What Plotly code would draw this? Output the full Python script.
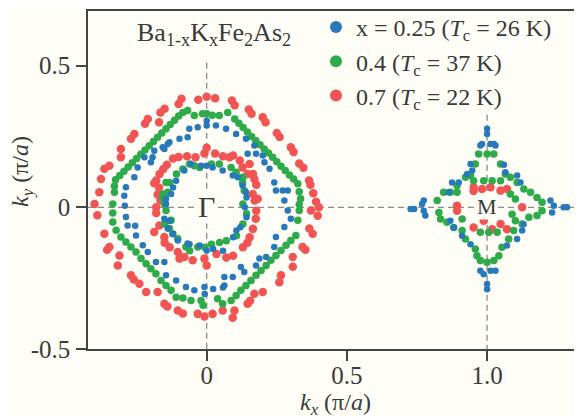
import plotly.graph_objects as go

# ---------------- data (kx, ky) in units of pi/a ----------------
series_names = ["x = 0.25 (<i>T</i><sub>c</sub> = 26 K)",
                "0.4 (<i>T</i><sub>c</sub> = 37 K)",
                "0.7 (<i>T</i><sub>c</sub> = 22 K)"]

# x = 0.7 (red)
red_gamma_outer = [
    (0.00, 0.39), (0.03, 0.385), (0.09, 0.377), (0.10, 0.36), (0.15, 0.345), (0.16, 0.33),
    (0.20, 0.318), (0.21, 0.30), (0.25, 0.262), (0.26, 0.248), (0.30, 0.212), (0.31, 0.195),
    (0.33, 0.155), (0.345, 0.14), (0.365, 0.095), (0.37, 0.08), (0.38, 0.05), (0.39, 0.02), (0.40, 0.0),
    (-0.03, 0.38), (-0.09, 0.383), (-0.10, 0.365), (-0.15, 0.348), (-0.165, 0.335), (-0.17, 0.30),
    (-0.21, 0.312), (-0.22, 0.295), (-0.258, 0.259), (-0.27, 0.242), (-0.306, 0.206), (-0.306, 0.177),
    (-0.347, 0.147), (-0.365, 0.136), (-0.377, 0.10), (-0.383, 0.053), (-0.40, 0.012),
    (-0.39, -0.028), (-0.365, -0.093), (-0.347, -0.14), (-0.355, -0.15), (-0.311, -0.17), (-0.317, -0.205),
    (-0.27, -0.24), (-0.26, -0.255), (-0.24, -0.27), (-0.216, -0.299), (-0.175, -0.299), (-0.151, -0.34),
    (-0.14, -0.35), (-0.103, -0.364), (-0.085, -0.375), (-0.032, -0.376), (-0.008, -0.385),
    (0.021, -0.376), (0.057, -0.364), (0.093, -0.39), (0.099, -0.364), (0.146, -0.34), (0.155, -0.33),
    (0.17, -0.305), (0.20, -0.299), (0.259, -0.264), (0.265, -0.24), (0.307, -0.21), (0.307, -0.175),
    (0.342, -0.14), (0.352, -0.15), (0.378, -0.093), (0.366, -0.075), (0.372, -0.011), (0.396, -0.03),
]
red_gamma_inner = [
    (0.0, 0.21), (-0.008, 0.19), (-0.04, 0.177), (-0.07, 0.18), (-0.10, 0.178), (-0.12, 0.172),
    (-0.142, 0.15), (-0.155, 0.135), (-0.168, 0.118), (-0.18, 0.095), (-0.187, 0.085), (-0.17, 0.07),
    (-0.175, 0.045), (-0.165, 0.025), (-0.18, 0.0),
    (-0.18, -0.02), (-0.169, -0.064), (-0.187, -0.087), (-0.151, -0.105), (-0.15, -0.125), (-0.132, -0.141),
    (-0.103, -0.158), (-0.097, -0.181), (-0.08, -0.175), (-0.05, -0.187), (-0.008, -0.181), (0.0, -0.205),
    (0.035, -0.165), (0.07, -0.177), (0.094, -0.171), (0.129, -0.141), (0.145, -0.125), (0.153, -0.106),
    (0.165, -0.076), (0.175, -0.04), (0.177, -0.012),
    (0.171, 0.024), (0.182, 0.03), (0.164, 0.047), (0.177, 0.08), (0.17, 0.1), (0.165, 0.118),
    (0.146, 0.118), (0.153, 0.153), (0.128, 0.141), (0.118, 0.165), (0.094, 0.183), (0.081, 0.177),
    (0.058, 0.18), (0.03, 0.19),
]
red_m = [
    (0.952, 0.071), (0.952, 0.058), (0.982, 0.065), (1.012, 0.071), (1.048, 0.059), (1.071, 0.065),
    (0.893, 0.006), (0.893, -0.012), (1.125, 0.0), (0.952, -0.071), (0.988, -0.047), (1.018, -0.077),
    (1.048, -0.059), (1.071, -0.077),
]

# x = 0.4 (green)
green_gamma_outer = [
    (0.0, 0.33), (0.02, 0.325), (0.045, 0.324), (0.075, 0.335), (0.10, 0.312), (0.115, 0.297),
    (0.13, 0.282), (0.145, 0.266), (0.16, 0.25), (0.175, 0.236), (0.19, 0.221), (0.205, 0.206),
    (0.22, 0.192), (0.235, 0.177), (0.25, 0.161), (0.265, 0.145), (0.28, 0.13), (0.295, 0.114),
    (0.31, 0.10), (0.325, 0.083), (0.33, 0.055), (0.335, 0.03), (0.33, 0.01),
    (-0.015, 0.33), (-0.044, 0.324), (-0.068, 0.342), (-0.085, 0.335), (-0.10, 0.322), (-0.115, 0.307),
    (-0.13, 0.292), (-0.145, 0.277), (-0.16, 0.262), (-0.175, 0.247), (-0.19, 0.232), (-0.205, 0.217),
    (-0.22, 0.202), (-0.235, 0.187), (-0.25, 0.172), (-0.265, 0.157), (-0.28, 0.142), (-0.295, 0.127),
    (-0.31, 0.112), (-0.325, 0.097), (-0.329, 0.075), (-0.329, 0.053), (-0.335, 0.012),
    (-0.335, -0.02), (-0.335, -0.052), (-0.323, -0.081), (-0.306, -0.105), (-0.288, -0.122),
    (-0.27, -0.14), (-0.252, -0.158), (-0.234, -0.181), (-0.216, -0.199), (-0.199, -0.217),
    (-0.181, -0.234), (-0.163, -0.258), (-0.145, -0.276), (-0.127, -0.293), (-0.109, -0.317),
    (-0.085, -0.32), (-0.056, -0.329), (-0.02, -0.329), (-0.013, -0.346),
    (0.039, -0.323), (0.057, -0.34), (0.087, -0.329), (0.105, -0.311), (0.122, -0.293), (0.14, -0.276),
    (0.158, -0.258), (0.176, -0.24), (0.194, -0.223), (0.212, -0.205), (0.229, -0.187), (0.247, -0.17),
    (0.265, -0.152), (0.283, -0.134), (0.30, -0.117), (0.318, -0.099), (0.325, -0.046), (0.33, -0.011),
]
green_gamma_inner = [
    (-0.025, 0.141), (-0.044, 0.147), (-0.061, 0.153), (-0.085, 0.135), (-0.108, 0.118), (-0.132, 0.088),
    (-0.145, 0.088), (-0.139, 0.053), (-0.156, 0.047), (-0.157, 0.035), (-0.151, 0.012),
    (-0.145, -0.011), (-0.127, -0.046), (-0.15, -0.059), (-0.133, -0.075), (-0.121, -0.093),
    (-0.103, -0.111), (-0.074, -0.14), (-0.061, -0.153), (-0.032, -0.14), (-0.007, -0.141), (0.017, -0.13),
    (0.046, -0.124), (0.07, -0.118), (0.106, -0.1), (0.129, -0.059), (0.142, -0.023), (0.129, 0.012),
    (0.134, 0.059), (0.128, 0.088), (0.129, 0.106), (0.105, 0.124), (0.087, 0.141), (0.045, 0.153),
    (0.017, 0.153),
]
green_m = [
    (1.0, 0.188), (0.97, 0.188), (1.024, 0.188), (0.958, 0.153), (1.048, 0.153), (1.065, 0.118),
    (0.941, 0.112), (0.923, 0.106), (0.893, 0.077), (0.869, 0.053), (0.845, 0.053), (0.822, 0.024),
    (0.828, -0.018), (0.834, -0.041), (0.857, -0.053), (0.881, -0.071), (0.911, -0.082), (0.923, -0.112),
    (0.958, -0.147), (0.964, -0.171), (0.976, -0.188), (1.0, -0.194), (1.024, -0.188), (1.042, -0.171),
    (1.053, -0.141), (1.077, -0.112), (1.095, -0.082), (1.125, -0.059), (1.149, -0.035), (1.178, -0.029),
    (1.196, -0.012), (1.196, 0.018), (1.178, 0.035), (1.155, 0.053), (1.131, 0.065), (1.107, 0.088),
    (1.083, 0.106),
    (0.952, 0.094), (0.988, 0.094), (1.018, 0.094), (1.048, 0.094), (0.893, 0.053), (1.083, 0.047),
    (1.101, 0.029), (1.089, -0.024), (1.101, -0.047), (1.036, -0.088), (1.006, -0.088), (0.976, -0.088),
    (0.911, -0.041),
]

# x = 0.25 (blue)
blue_gamma_outer = [
    (0.0, 0.306), (0.0, 0.289), (-0.032, 0.283), (-0.062, 0.277), (-0.068, 0.247), (-0.097, 0.242),
    (-0.133, 0.23), (-0.139, 0.224), (-0.157, 0.212), (-0.151, 0.206), (-0.187, 0.2), (-0.193, 0.177),
    (-0.222, 0.177), (-0.199, 0.159), (-0.246, 0.141), (-0.258, 0.106), (-0.288, 0.071), (-0.294, 0.041),
    (-0.292, 0.006), (-0.288, -0.034), (-0.282, -0.064), (-0.255, -0.065), (-0.252, -0.099),
    (-0.228, -0.134), (-0.21, -0.158), (-0.181, -0.193), (-0.151, -0.193), (-0.145, -0.24),
    (-0.109, -0.258), (-0.074, -0.281), (-0.044, -0.293), (-0.008, -0.281), (-0.007, -0.306),
    (0.023, -0.288), (0.058, -0.283), (0.063, -0.246), (0.063, -0.276), (0.093, -0.246), (0.122, -0.211),
    (0.134, -0.228), (0.176, -0.205), (0.188, -0.181), (0.212, -0.175), (0.241, -0.14), (0.247, -0.105),
    (0.277, -0.069), (0.30, -0.04), (0.289, -0.011),
    (0.277, 0.024), (0.289, 0.059), (0.271, 0.059), (0.247, 0.059), (0.241, 0.088), (0.224, 0.136),
    (0.206, 0.159), (0.20, 0.183), (0.176, 0.189), (0.146, 0.189), (0.17, 0.218), (0.14, 0.242),
    (0.105, 0.259), (0.069, 0.277), (0.033, 0.289),
]
blue_gamma_inner = [
    (0.0, 0.147), (-0.02, 0.147), (-0.056, 0.153), (-0.08, 0.13), (-0.109, 0.094), (-0.12, 0.07),
    (-0.127, 0.047), (-0.145, 0.03), (-0.145, 0.012), (-0.151, -0.04), (-0.132, -0.047),
    (-0.139, -0.075), (-0.12, -0.094), (-0.103, -0.117), (-0.068, -0.128), (-0.061, -0.13),
    (-0.025, -0.135), (0.0, -0.152), (0.023, -0.147), (0.058, -0.153), (0.094, -0.106), (0.106, -0.082),
    (0.12, -0.07), (0.142, -0.035), (0.136, 0.0), (0.142, 0.035), (0.14, 0.053), (0.128, 0.077),
    (0.111, 0.106), (0.093, 0.112), (0.057, 0.13), (0.021, 0.141),
]
blue_m = [
    (1.0, 0.277), (1.0, 0.259), (0.982, 0.224), (1.012, 0.224), (1.024, 0.224), (0.976, 0.218),
    (1.03, 0.218), (0.941, 0.153), (0.947, 0.13), (0.929, 0.118), (0.875, 0.088), (0.899, 0.088),
    (0.863, 0.053), (0.774, 0.024), (0.768, 0.012), (0.774, -0.012), (0.78, -0.029), (0.727, -0.006),
    (0.74, -0.006), (0.869, -0.047), (0.881, -0.071), (0.911, -0.1), (0.941, -0.13),
    (0.976, -0.224), (0.988, -0.236), (1.012, -0.224), (1.03, -0.224), (1.0, -0.271), (1.0, -0.289),
    (1.125, -0.082), (1.107, -0.112), (1.071, -0.135), (1.13, -0.06),
    (1.226, 0.024), (1.238, 0.006), (1.232, -0.018), (1.273, 0.0), (1.285, 0.0),
    (1.107, 0.112), (1.119, 0.088), (1.065, 0.124), (1.06, 0.15),
]

x_ticks = [0, 0.5, 1.0]
x_ticklabels = ["0", "0.5", "1.0"]
y_ticks = [-0.5, 0, 0.5]
y_ticklabels = ["-0.5", "0", "0.5"]
x_range = [-0.4233, 1.3385]
y_range = [-0.5, 0.693]
x_title = "<i>k</i><sub><i>x</i></sub> (π/<i>a</i>)"
y_title = "<i>k</i><sub><i>y</i></sub> (π/<i>a</i>)"
compound = "Ba<sub>1-x</sub>K<sub>x</sub>Fe<sub>2</sub>As<sub>2</sub>"

# guide lines through the high-symmetry points: (x, y_top) vertical and horizontal at ky=0
guide_vertical = [(0.0, 0.51), (1.0, 0.327)]
point_labels = [("Γ", 0.0, 0.0, 30), ("M", 1.0, 0.0, 22)]

# ---------------- figure ----------------
BG = "#fefef6"
FONT = "Liberation Serif"
TXT = "#3a3a3a"
AX = "#454545"

def xs(*groups):
    return [p[0] for g in groups for p in g]

def ys(*groups):
    return [p[1] for g in groups for p in g]

fig = go.Figure()
fig.add_trace(go.Scatter(x=xs(red_gamma_outer, red_gamma_inner, red_m),
                         y=ys(red_gamma_outer, red_gamma_inner, red_m),
                         mode="markers", name=series_names[2],
                         marker=dict(color="#f25454", size=8.5, line=dict(width=0))))
fig.add_trace(go.Scatter(x=xs(green_gamma_outer, green_gamma_inner, green_m),
                         y=ys(green_gamma_outer, green_gamma_inner, green_m),
                         mode="markers", name=series_names[1],
                         marker=dict(color="#2eaa4a", size=7.5, line=dict(width=0))))
fig.add_trace(go.Scatter(x=xs(blue_gamma_outer, blue_gamma_inner, blue_m),
                         y=ys(blue_gamma_outer, blue_gamma_inner, blue_m),
                         mode="markers", name=series_names[0],
                         marker=dict(color="#2878bc", size=6.5, line=dict(width=0))))

dash_line = dict(color="#8c8c8c", width=1.3, dash="6px,4px")
for gx, gtop in guide_vertical:
    fig.add_shape(type="line", xref="x", yref="y", x0=gx, x1=gx, y0=gtop, y1=y_range[0],
                  line=dash_line, layer="below")
fig.add_shape(type="line", xref="x", yref="y", x0=x_range[0], x1=x_range[1], y0=0, y1=0,
              line=dash_line, layer="below")

for txt, lx, ly, fs in point_labels:
    fig.add_annotation(x=lx, y=ly, xref="x", yref="y", text=txt, showarrow=False,
                       font=dict(family=FONT, size=fs, color=TXT), bgcolor=BG,
                       xanchor="center", yanchor="middle", borderpad=0, yshift=1)

fig.add_annotation(x=0.026, y=0.612, xref="x", yref="y", text=compound,
                   showarrow=False, font=dict(family=FONT, size=26, color=TXT),
                   xanchor="center", yanchor="middle")

# axis titles
fig.add_annotation(x=0.5, y=0, xref="paper", yref="paper", text=x_title, showarrow=False,
                   font=dict(family=FONT, size=24, color=TXT),
                   xanchor="center", yanchor="middle", yshift=-55)
fig.add_annotation(x=0, y=0.524, xref="paper", yref="paper", text=y_title, showarrow=False,
                   font=dict(family=FONT, size=24, color=TXT), textangle=-90,
                   xanchor="center", yanchor="middle", xshift=-66)

# the page body has an 8 px default margin, so the figure is drawn 8 px smaller
fig.update_layout(
    width=574, height=409,
    margin=dict(l=80, r=0, t=3, b=68, autoexpand=False),
    paper_bgcolor=BG, plot_bgcolor=BG,
    font=dict(family=FONT, color=TXT),
    showlegend=True,
    legend=dict(x=0.4615, y=1.018, xanchor="left", yanchor="top",
                traceorder="reversed", bgcolor="rgba(0,0,0,0)",
                font=dict(family=FONT, size=24, color=TXT),
                itemsizing="constant"),
    xaxis=dict(range=x_range, tickvals=x_ticks, ticktext=x_ticklabels, automargin=False,
               showgrid=False, zeroline=False, showline=True, linecolor=AX,
               linewidth=1.5, mirror=True, ticks="outside", ticklen=10, tickwidth=1.5,
               tickcolor=AX, tickfont=dict(family=FONT, size=25, color=TXT),
               ticklabelstandoff=-7),
    yaxis=dict(range=y_range, tickvals=y_ticks, ticktext=y_ticklabels, automargin=False,
               showgrid=False, zeroline=False, showline=True, linecolor=AX,
               linewidth=1.5, mirror=False, ticks="outside", ticklen=10, tickwidth=1.5,
               tickcolor=AX, tickfont=dict(family=FONT, size=25, color=TXT),
               ticklabelstandoff=1),
)

fig.write_html("out.html")
